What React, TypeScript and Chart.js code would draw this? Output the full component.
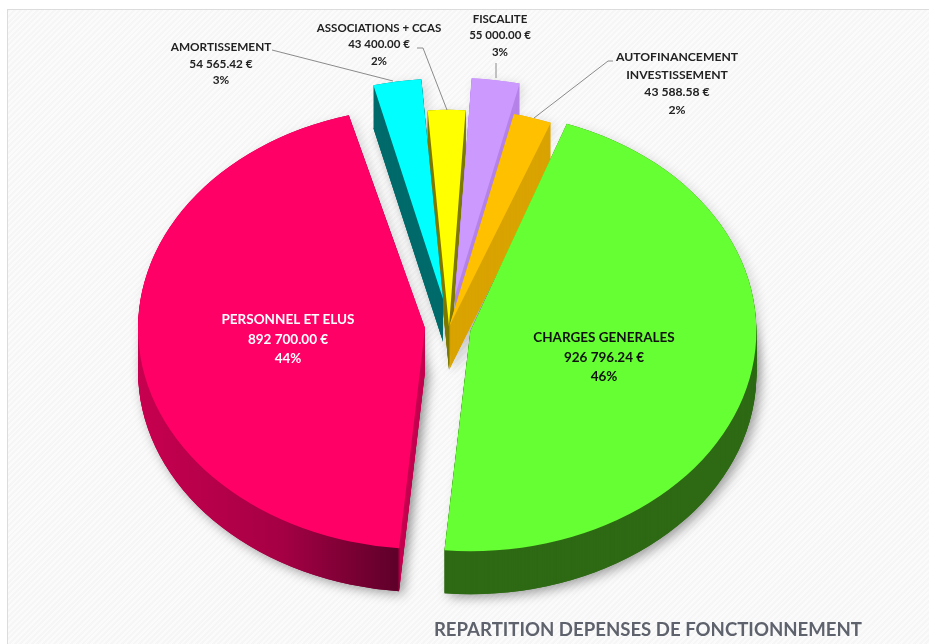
import React, { useEffect, useRef } from "react";
import { Chart, registerables, ArcElement } from "chart.js";

Chart.register(...registerables);

const categories = [
  "CHARGES GENERALES",
  "PERSONNEL ET ELUS",
  "AMORTISSEMENT",
  "ASSOCIATIONS + CCAS",
  "FISCALITE",
  "AUTOFINANCEMENT\nINVESTISSEMENT",
];
const amounts = [926796.24, 892700.0, 54565.42, 43400.0, 55000.0, 43588.58];
const percents = ["46%", "44%", "3%", "2%", "3%", "2%"];
const faceColors = ["#66FF33", "#FF0066", "#00FFFF", "#FFFF00", "#CC99FF", "#FFC000"];
const wallColors = ["#2E6A14", "", "#006B6B", "#7F7A00", "#B583E8", "#D9A300"];
const explode = [22, 24, 37, 1, 41, 0];
const sliceRadius = [286, 287, 286, 281, 283, 284];
const sliceTilt = [-1.3, -1.3, 0, 0, 0, 0];
const labelColors = ["#111111", "#FFFFFF", "#222222", "#222222", "#222222", "#222222"];
const labelSizes = [13.5, 13.5, 11.8, 11.5, 11.5, 12.2];
const labelSteps = [19.5, 19.5, 16.7, 16.5, 16.5, 17.7];
const labelX = [604, 288, 221, 379, 500, 677];
const labelY = [338, 320, 47, 28, 19, 57];
const leaderLines = [
  null,
  null,
  [[272, 50], [393, 81]],
  [[417, 48], [423, 48], [447, 110]],
  [[496, 63], [496, 78]],
  [[613, 61], [608, 61], [534, 118]],
];

const TITLE = "REPARTITION DEPENSES DE FONCTIONNEMENT";
const CENTER_X = 449;
const CENTER_Y = 327;
const SQUASH = 0.77;
const DEPTH = 43;

const fmt = (v: number) =>
  v.toFixed(2).replace(/\B(?=(\d{3})+(?!\d))(?=.*\.)/g, " ") + " €";

function drawArc(el: any, ctx: CanvasRenderingContext2D, color: any, i: number) {
  const proxy = Object.create(el);
  const tilt = (sliceTilt[i] * Math.PI) / 180;
  proxy.startAngle = el.startAngle + tilt;
  proxy.endAngle = el.endAngle + tilt;
  proxy.outerRadius = sliceRadius[i];
  proxy.options = {
    backgroundColor: color,
    offset: 0,
    spacing: 0,
    borderWidth: 0,
    borderRadius: 0,
    circular: true,
    borderAlign: "center",
  };
  const mid = (el.startAngle + el.endAngle) / 2;
  ctx.save();
  ctx.translate(Math.cos(mid) * explode[i], Math.sin(mid) * explode[i]);
  (ArcElement.prototype.draw as any).call(proxy, ctx);
  ctx.restore();
}

const pie3d = {
  id: "pie3d",
  beforeDatasetDraw() {
    return false;
  },
  beforeDatasetsDraw(chart: any) {
    const ctx: CanvasRenderingContext2D = chart.ctx;
    const arcs = chart.getDatasetMeta(0).data;
    const cx = arcs[0].x;
    const cy = arcs[0].y;
    ctx.save();
    ctx.translate(CENTER_X, CENTER_Y);
    ctx.scale(1, SQUASH);
    ctx.translate(-cx, -cy);

    const grad = ctx.createLinearGradient(cx - 290, 0, cx, 0);
    grad.addColorStop(0, "#C8004F");
    grad.addColorStop(0.5, "#A60044");
    grad.addColorStop(0.905, "#5E0029");
    grad.addColorStop(0.915, "#C4004E");
    grad.addColorStop(1, "#C4004E");
    const wall = (i: number) => wallColors[i] || grad;

    const shift = (d: number) => d / SQUASH;
    // soft cast shadow
    ctx.save();
    ctx.shadowBlur = 12;
    ctx.shadowOffsetX = 4;
    ctx.shadowOffsetY = 3;
    arcs.forEach((el: any, i: number) => {
      ctx.shadowColor = "rgba(0,0,0,0.38)";
      ctx.save();
      ctx.translate(0, shift(DEPTH));
      drawArc(el, ctx, wall(i), i);
      ctx.restore();
      ctx.shadowColor = "rgba(0,0,0,0.14)";
      drawArc(el, ctx, wall(i), i);
    });
    ctx.restore();
    // extruded walls
    for (let d = DEPTH; d >= 1; d -= 1) {
      arcs.forEach((el: any, i: number) => {
        ctx.save();
        ctx.translate(0, shift(d));
        drawArc(el, ctx, wall(i), i);
        ctx.restore();
      });
    }
    // top faces
    arcs.forEach((el: any, i: number) => drawArc(el, ctx, faceColors[i], i));
  },
  afterDatasetsDraw(chart: any) {
    const ctx: CanvasRenderingContext2D = chart.ctx;
    ctx.restore();
    // leader lines
    ctx.save();
    ctx.strokeStyle = "#8A8A8A";
    ctx.lineWidth = 1;
    leaderLines.forEach((pts) => {
      if (!pts) return;
      ctx.beginPath();
      pts.forEach((p, k) => (k ? ctx.lineTo(p[0], p[1]) : ctx.moveTo(p[0], p[1])));
      ctx.stroke();
    });
    // data labels
    ctx.textAlign = "center";
    ctx.textBaseline = "middle";
    categories.forEach((name, i) => {
      ctx.font = `bold ${labelSizes[i]}px Lato`;
      ctx.fillStyle = labelColors[i];
      const lines = [...name.split("\n"), fmt(amounts[i]), percents[i]];
      lines.forEach((t, k) => ctx.fillText(t, labelX[i], labelY[i] + k * labelSteps[i]));
    });
    ctx.restore();
  },
};

export default function App() {
  const ref = useRef<HTMLCanvasElement>(null);
  useEffect(() => {
    document.body.style.margin = "0";
    const chart = new Chart(ref.current!, {
      type: "pie",
      data: {
        labels: categories.map((c) => c.replace("\n", " ")),
        datasets: [
          {
            data: amounts,
            backgroundColor: faceColors,
            borderWidth: 0,
            clip: false,
          } as any,
        ],
      },
      options: {
        responsive: false,
        animation: false,
        rotation: 21,
        layout: { padding: { right: 67, bottom: 3 } },
        plugins: {
          legend: { display: false },
          tooltip: { enabled: false },
          title: {
            display: true,
            text: TITLE,
            position: "bottom",
            align: "end",
            color: "#5E626C",
            font: { family: "Lato", size: 18.6, weight: "bold" },
            padding: 0,
          },
        },
      },
      plugins: [pie3d],
    });
    return () => chart.destroy();
  }, []);
  return (
    <div style={{ position: "relative", width: 929, height: 644, background: "#fff", overflow: "hidden" }}>
      <div
        style={{
          position: "absolute",
          left: 7,
          top: 9,
          right: 0,
          bottom: 0,
          borderLeft: "1px solid #dcdcdc",
          borderTop: "1px solid #dcdcdc",
          background: "repeating-linear-gradient(135deg,#f6f6f6 0 2px,#fbfbfb 2px 4px)",
        }}
      />
      <canvas ref={ref} width={929} height={644} style={{ position: "absolute", left: 0, top: 0, display: "block" }} />
    </div>
  );
}
